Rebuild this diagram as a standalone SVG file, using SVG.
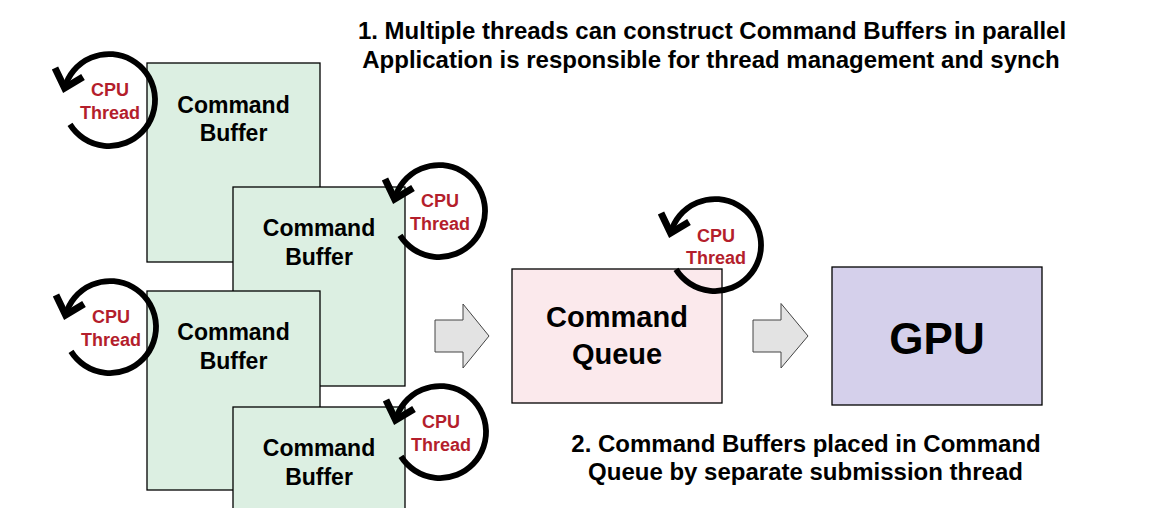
<svg xmlns="http://www.w3.org/2000/svg" width="1157" height="508" viewBox="0 0 1157 508">
<defs>
<style>
text{font-family:"Liberation Sans",Arial,sans-serif;font-weight:bold;text-anchor:middle}
.cb{fill:#dcefe2;stroke:#000;stroke-width:1.3}
.lbl{font-size:23px;fill:#000}
.cpu{font-size:18px;fill:#b41e2c}
.note{font-size:24px;fill:#000}
.ring{fill:none;stroke:#000;stroke-width:5.8}
.head{fill:none;stroke:#000;stroke-width:7;stroke-linejoin:miter;stroke-miterlimit:10}
.blk{fill:#e3e3e3;stroke:#444;stroke-width:1}
</style>
<g id="cyc">
<path class="ring" d="M -39 24.4 A 46 46 0 1 0 -44.4 -11.9"/>
<polyline class="head" points="-54,-32 -44.4,-11.9 -26,-23"/>
</g>
</defs>
<rect width="1157" height="508" fill="#fff"/>
<g id="cb1"><rect class="cb" x="147" y="63" width="173" height="199"/><text class="lbl" x="233.5" y="112.5">Command</text><text class="lbl" x="233.5" y="141">Buffer</text></g>
<g id="cb2"><rect class="cb" x="233" y="187" width="172" height="199"/><text class="lbl" x="319" y="236">Command</text><text class="lbl" x="319" y="264.5">Buffer</text></g>
<g id="cb3"><rect class="cb" x="147" y="291" width="173" height="199"/><text class="lbl" x="233.5" y="340">Command</text><text class="lbl" x="233.5" y="368.5">Buffer</text></g>
<g id="cb4"><rect class="cb" x="233" y="407" width="172" height="120"/><text class="lbl" x="319" y="456">Command</text><text class="lbl" x="319" y="484.5">Buffer</text></g>
<g id="queue"><rect x="512" y="269" width="210" height="134" fill="#fbe9ec" stroke="#000" stroke-width="1.3"/><text x="617" y="327" font-size="29">Command</text><text x="617" y="363.5" font-size="29">Queue</text></g>
<g id="gpu"><rect x="832" y="267" width="210" height="138" fill="#d5d0eb" stroke="#000" stroke-width="1.3"/><text x="937" y="354" font-size="44">GPU</text></g>
<g id="t1"><use href="#cyc" x="109" y="100"/><text class="cpu" x="110" y="96">CPU</text><text class="cpu" x="110" y="118.5">Thread</text></g>
<g id="t2"><use href="#cyc" x="439" y="211"/><text class="cpu" x="440" y="207">CPU</text><text class="cpu" x="440" y="229.5">Thread</text></g>
<g id="t3"><use href="#cyc" x="715" y="245"/><text class="cpu" x="716" y="241.5">CPU</text><text class="cpu" x="716" y="264">Thread</text></g>
<g id="t4"><use href="#cyc" x="110" y="327"/><text class="cpu" x="111" y="323">CPU</text><text class="cpu" x="111" y="345.5">Thread</text></g>
<g id="t5"><use href="#cyc" x="440" y="432"/><text class="cpu" x="441" y="428">CPU</text><text class="cpu" x="441" y="450.5">Thread</text></g>
<g id="connectors">
<polygon class="blk" points="435,320 463,320 463,304 489,336 463,368 463,352 435,352"/>
<polygon class="blk" points="753,320 781,320 781,303.5 808,336 781,368 781,352 753,352"/>
</g>
<g id="notes">
<text class="note" x="712" y="39" font-size="24.4">1. Multiple threads can construct Command Buffers in parallel</text>
<text class="note" x="711" y="68" font-size="24.4">Application is responsible for thread management and synch</text>
<text class="note" x="806" y="452">2. Command Buffers placed in Command</text>
<text class="note" x="805.5" y="480">Queue by separate submission thread</text>
</g>
</svg>
